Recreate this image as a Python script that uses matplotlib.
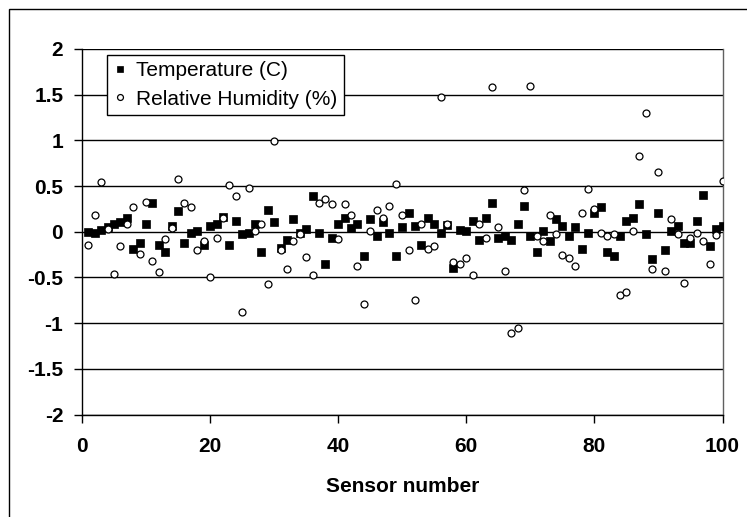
import matplotlib
matplotlib.use("Agg")
import matplotlib.pyplot as plt
from matplotlib.patches import Rectangle

sensors = list(range(1, 101))
temperature = [
    0.00, -0.01, 0.02, 0.05, 0.09, 0.11, 0.15, -0.19, -0.12, 0.08,
    0.31, -0.15, -0.22, 0.06, 0.23, -0.12, -0.01, 0.01, -0.15, 0.06,
    0.08, 0.16, -0.15, 0.12, -0.03, -0.01, 0.08, -0.22, 0.24, 0.11,
    -0.18, -0.09, 0.14, -0.01, 0.03, 0.39, -0.01, -0.35, -0.07, 0.09,
    0.15, 0.04, 0.08, -0.26, 0.14, -0.05, 0.11, -0.01, -0.26, 0.05,
    0.21, 0.06, -0.14, 0.15, 0.08, -0.01, 0.07, -0.40, 0.02, 0.01,
    0.12, -0.09, 0.15, 0.31, -0.07, -0.05, -0.09, 0.09, 0.28, -0.05,
    -0.22, 0.01, -0.10, 0.14, 0.06, -0.05, 0.05, -0.19, -0.01, 0.20,
    0.27, -0.22, -0.26, -0.05, 0.12, 0.15, 0.30, -0.03, -0.30, 0.20,
    -0.20, 0.01, 0.06, -0.12, -0.12, 0.12, 0.40, -0.16, 0.03, 0.06,
]
humidity = [
    -0.15, 0.18, 0.54, 0.03, -0.46, -0.16, 0.09, 0.27, -0.24, 0.33,
    -0.32, -0.44, -0.08, 0.04, 0.58, 0.32, 0.27, -0.20, -0.10, -0.49,
    -0.07, 0.15, 0.51, 0.39, -0.88, 0.48, 0.01, 0.08, -0.57, 0.99,
    -0.20, -0.41, -0.10, -0.03, -0.28, -0.47, 0.32, 0.36, 0.30, -0.08,
    0.30, 0.18, -0.38, -0.79, 0.01, 0.24, 0.15, 0.28, 0.52, 0.18,
    -0.20, -0.75, 0.09, -0.19, -0.16, 1.48, 0.09, -0.33, -0.35, -0.29,
    -0.47, 0.09, -0.07, 1.58, 0.05, -0.43, -1.11, -1.05, 0.46, 1.60,
    -0.05, -0.10, 0.18, -0.03, -0.25, -0.29, -0.38, 0.21, 0.47, 0.25,
    -0.01, -0.05, -0.03, -0.69, -0.66, 0.01, 0.83, 1.30, -0.41, 0.65,
    -0.43, 0.14, -0.03, -0.56, -0.07, -0.01, -0.10, -0.35, -0.04, 0.55,
]
x_ticks = [0, 20, 40, 60, 80, 100]
y_ticks = [-2, -1.5, -1, -0.5, 0, 0.5, 1, 1.5, 2]
y_tick_labels = ["-2", "-1.5", "-1", "-0.5", "0", "0.5", "1", "1.5", "2"]
series_names = ["Temperature (C)", "Relative Humidity (%)"]
x_label = "Sensor number"

plt.rcParams['font.family'] = ['Liberation Sans', 'DejaVu Sans']

W, H = 747, 517
fig = plt.figure(figsize=(W / 100, H / 100), dpi=100)
fig.patch.set_facecolor('white')

# outer border
fig.patches.append(Rectangle((9 / W, -0.01), 1.0, 1 - 9 / H + 0.01, transform=fig.transFigure,
                             fill=False, edgecolor='black', linewidth=1.0))

ax = fig.add_axes([82 / W, 1 - 414.5 / H, (722.5 - 82) / W, (414.5 - 49) / H])
ax.set_xlim(0, 100)
ax.set_ylim(-2, 2)

for yv in y_ticks:
    ax.axhline(yv, color='black', linewidth=1.0, zorder=1)

ax.plot(sensors, temperature, linestyle='none', marker='s', markersize=5.4,
        markerfacecolor='black', markeredgecolor='black', markeredgewidth=0.5,
        label=series_names[0], zorder=3)
ax.plot(sensors, humidity, linestyle='none', marker='o', markersize=5.0,
        markerfacecolor='white', markeredgecolor='black', markeredgewidth=0.9,
        label=series_names[1], zorder=4)

ax.set_xticks(x_ticks)
ax.set_yticks(y_ticks)
ax.set_yticklabels(y_tick_labels)
ax.tick_params(axis='both', direction='out', length=5.5, width=1.0, color='black',
               labelsize=15)
ax.tick_params(axis='y', pad=8)
ax.tick_params(axis='x', pad=11)
for lab in ax.get_xticklabels() + ax.get_yticklabels():
    lab.set_fontweight('bold')

ax.spines['top'].set_visible(False)
ax.spines['left'].set_color('black')
ax.spines['bottom'].set_color('black')
ax.spines['right'].set_color('#606060')
for s in ax.spines.values():
    s.set_linewidth(1.0)

ax.set_xlabel(x_label, fontsize=15, fontweight='bold', labelpad=15)

leg = ax.legend(loc='upper left', bbox_to_anchor=((107 - 82) / 640.5, (414.5 - 55) / 365.5),
                borderaxespad=0, frameon=True, fancybox=False, framealpha=1,
                edgecolor='black', fontsize=15, handlelength=0.6, handletextpad=0.5,
                borderpad=0.3, labelspacing=0.45, markerscale=0.85)
leg.get_frame().set_linewidth(1.0)
leg.set_zorder(10)

fig.savefig('out.png', dpi=100)
